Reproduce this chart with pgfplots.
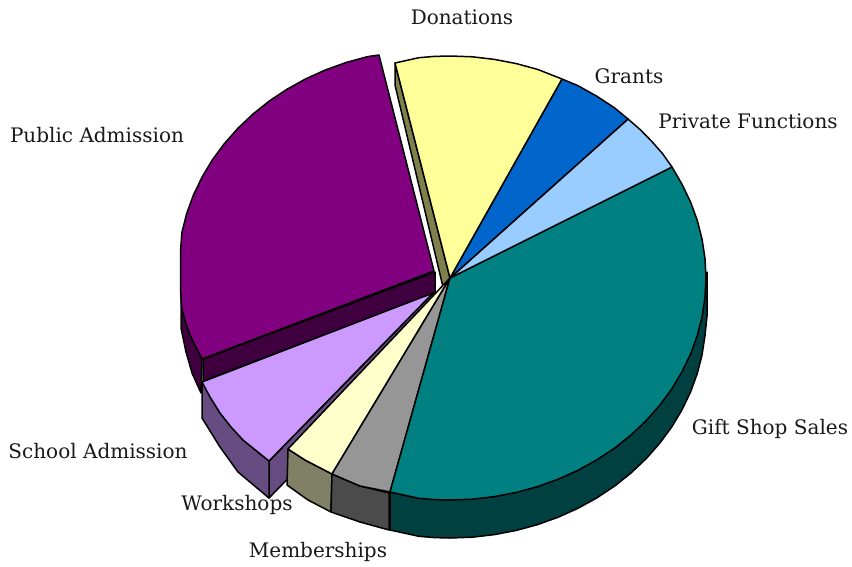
\documentclass[border=0pt]{standalone}
\usepackage{pgfplots}
\pgfplotsset{compat=1.18}
\usepackage{fontspec}
\setmainfont{DejaVu Serif}
\definecolor{pubtop}{HTML}{800080}
\definecolor{pubside}{HTML}{400040}
\definecolor{schtop}{HTML}{CC99FF}
\definecolor{schside}{HTML}{664C80}
\definecolor{wrktop}{HTML}{FFFFCC}
\definecolor{wrkside}{HTML}{808066}
\definecolor{memtop}{HTML}{969696}
\definecolor{memside}{HTML}{4B4B4B}
\definecolor{giftop}{HTML}{008080}
\definecolor{gifside}{HTML}{004040}
\definecolor{pritop}{HTML}{99CCFF}
\definecolor{gratop}{HTML}{0066CC}
\definecolor{dontop}{HTML}{FFFF99}
\definecolor{donside}{HTML}{80804C}
\pgfplotsset{slice/.style={draw=black,line width=1.5pt,line join=round,fill=#1}}
\tikzset{slicename/.style={anchor=base,font=\fontsize{20}{22}\selectfont,text=black!90}}
\begin{document}
\begin{tikzpicture}[x=1pt,y=1pt]
\path[use as bounding box] (0,0) rectangle (852,566);
\begin{axis}[at={(0,0)},anchor=south west,scale only axis,width=852pt,height=566pt,
  xmin=0,xmax=852,ymin=0,ymax=566,y dir=reverse,hide axis,clip=false]
% side walls of the exploded slices
\addplot[slice=donside] coordinates {(395,63)(395,85)(443,287)(450,278)} -- cycle;
\addplot[slice=pubside] coordinates {(181,272)(181,328)(186,352)(192,373)(201,393)(202,359)(190,335)(182,310)} -- cycle;
\addplot[slice=pubside] coordinates {(435,272)(435,293)(203,381)(203,359)} -- cycle;
% Public Admission
\addplot[slice=pubtop] coordinates {(434,271)(379,55)(367.7,56.6)(346.4,62.4)(325.8,69.8)(306,78.7)(287.2,89.1)(269.4,100.9)(253,114)(237.9,128.3)(224.3,143.7)(212.3,160)(202,177.2)(193.4,195.1)(186.7,213.5)(181.9,232.4)(180.5,251.6)(180.5,271)(180.5,290)(181.9,309.6)(186.7,326)(190,335)(202,359)} -- cycle;
% School Admission
\addplot[slice=schside] coordinates {(269,461)(433,293)(433,330)(269,498)} -- cycle;
\addplot[slice=schside] coordinates {(202,382)(220,413)(243,440)(269,461)(269,498)(238,472)(220,447)(202,418)} -- cycle;
\addplot[slice=schtop] coordinates {(433,293)(202,382)(210,397)(220,413)(231,427)(243,440)(269,461)} -- cycle;
% Workshops and Memberships walls
\addplot[slice=wrkside] coordinates {(288,449)(305,460)(332,474)(331,512)(308,500)(287,485)} -- cycle;
\addplot[slice=memside] coordinates {(332,474)(360,486)(389,493)(389,530)(360,522)(331,512)} -- cycle;
% Gift Shop Sales wall
\addplot[slice=gifside] coordinates {(707,272)(707,316)(705,335.4)(702.1,354.6)(697.3,373.5)(690.6,391.9)(682,409.8)(671.7,427)(659.7,443.3)(646.1,458.7)(631,473)(614.6,486.1)(596.8,497.9)(578,508.3)(558.2,517.2)(537.6,524.6)(516.3,530.4)(494.5,534.6)(472.3,537.2)(450,538)(434.4,537.6)(418.8,536.3)(390,530)(390,492)(418.8,498.3)(450,500)(494.5,496.6)(537.6,486.6)(578,470.3)(614.6,448.1)(646.1,420.7)(671.7,389)(690.6,353.9)(702.1,316.6)} -- cycle;
% top faces
\addplot[slice=wrktop] coordinates {(450,278)(288,449)(305,460)(332,474)} -- cycle;
\addplot[slice=memtop] coordinates {(450,278)(332,474)(360,486)(390,492)} -- cycle;
\addplot[slice=giftop] coordinates {(450,278)(390,492)(418.8,498.3)(434.4,499.6)(450,500)(472.3,499.2)(494.5,496.6)(516.3,492.4)(537.6,486.6)(558.2,479.2)(578,470.3)(596.8,459.9)(614.6,448.1)(631,435)(646.1,420.7)(659.7,405.3)(671.7,389)(682,371.8)(690.6,353.9)(697.3,335.5)(702.1,316.6)(705,297.4)(706,278)(705,258.6)(702.1,239.4)(697.3,220.5)(690.6,202.1)(682,184.2)(672,167)} -- cycle;
\addplot[slice=pritop] coordinates {(450,278)(672,167)(662.5,153.6)(651.7,141.3)(640.3,129.7)(628,119)} -- cycle;
\addplot[slice=gratop] coordinates {(450,278)(628,119)(614.6,107.9)(596.8,96.2)(578,85.7)(562,79)} -- cycle;
\addplot[slice=dontop] coordinates {(450,278)(562,79)(537.6,69.4)(516.3,63.6)(494.5,59.4)(472.3,56.8)(450,56)(434.4,56.4)(418.8,57.7)(395,63)} -- cycle;
% slice names
\node[slicename] at (axis cs:462,24) {Donations};
\node[slicename] at (axis cs:629,83) {Grants};
\node[slicename] at (axis cs:748,128) {Private Functions};
\node[slicename] at (axis cs:770,434) {Gift Shop Sales};
\node[slicename] at (axis cs:318,557) {Memberships};
\node[slicename] at (axis cs:237,510) {Workshops};
\node[slicename] at (axis cs:98,458) {School Admission};
\node[slicename] at (axis cs:97,142) {Public Admission};
\end{axis}
\end{tikzpicture}
\end{document}
